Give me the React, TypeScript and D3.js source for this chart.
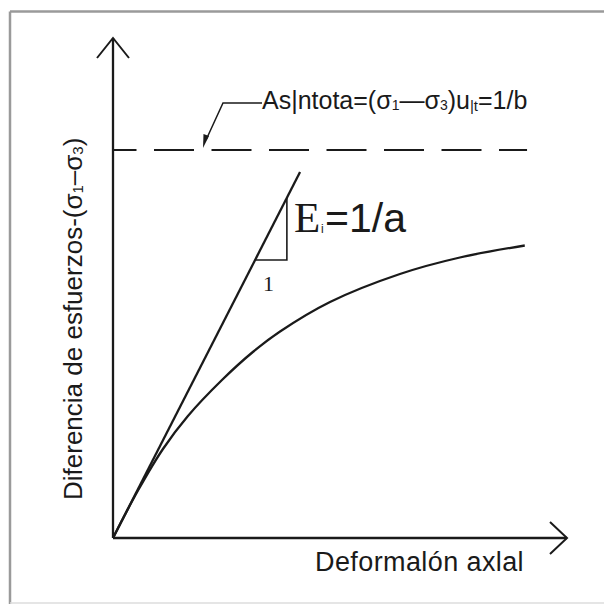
import React from "react";
import * as d3 from "d3";

// ---- data (arbitrary units) ----
const curveX = [0, 0.55, 1.1, 1.65, 2.4, 3.08, 3.68, 4.78, 6.32, 7.64, 9.07];
const curveY = [0, 0.95, 1.78, 2.44, 3.16, 3.72, 4.13, 4.72, 5.28, 5.61, 5.85];
const tangentX = [0, 4.12];
const tangentY = [0, 7.32];
const asymptoteY = 7.76;
const asymptoteX = [0, 9.12];
const triangleX = [3.13, 3.83];
const xLabel = "Deformalón axlal";
const yLabelMain = "Diferencia de esfuerzos-(σ";
const annotMain = "As|ntota=(σ";
const slopeLabel = "=1/a";
const runLabel = "1";

const W = 604;
const H = 604;

export default function App() {
  const x = d3.scaleLinear().domain([0, 10]).range([113, 567]);
  const y = d3.scaleLinear().domain([0, 10]).range([538, 38]);

  const curvePts: [number, number][] = curveX.map((v, i) => [v, curveY[i]]);
  const line = d3
    .line<[number, number]>()
    .x((d) => x(d[0]))
    .y((d) => y(d[1]))
    .curve(d3.curveCatmullRom.alpha(0.5));

  const slope = tangentY[1] / tangentX[1];
  const triY0 = triangleX[0] * slope;
  const triY1 = triangleX[1] * slope;

  const ink = "#1a1a1a";
  const sans = "'Liberation Sans', Arial, sans-serif";
  const serif = "'Liberation Serif', 'Times New Roman', serif";

  const ax0 = x(0);
  const ay0 = y(0);
  const yTop = y(10);
  const xEnd = x(10);

  const asY = y(asymptoteY);
  const tipX = 203;

  return (
    <svg
      width={W}
      height={H}
      style={{ position: "fixed", left: 0, top: 0, background: "#fff" }}
    >
      <rect x={0} y={0} width={W} height={H} fill="#fff" />
      {/* frame */}
      <line x1={10} y1={11.5} x2={W} y2={11.5} stroke="#9a9a9a" strokeWidth={2.5} />
      <line x1={10} y1={11.5} x2={10} y2={H} stroke="#9a9a9a" strokeWidth={2.5} />
      <line x1={10} y1={603} x2={W} y2={603} stroke="#dddddd" strokeWidth={1.5} />

      {/* axes */}
      <line x1={ax0} y1={ay0} x2={ax0} y2={yTop} stroke={ink} strokeWidth={2.3} />
      <line x1={ax0} y1={ay0} x2={xEnd} y2={ay0} stroke={ink} strokeWidth={2.3} />
      <polyline
        points={`${ax0 - 16},${yTop + 20} ${ax0},${yTop} ${ax0 + 16},${yTop + 20}`}
        fill="none"
        stroke={ink}
        strokeWidth={2}
      />
      <polyline
        points={`${xEnd - 17},${ay0 - 16} ${xEnd},${ay0} ${xEnd - 17},${ay0 + 16}`}
        fill="none"
        stroke={ink}
        strokeWidth={2}
      />

      {/* asymptote */}
      <line
        x1={x(asymptoteX[0])}
        y1={asY}
        x2={x(asymptoteX[1])}
        y2={asY}
        stroke={ink}
        strokeWidth={2}
        strokeDasharray="40 17.5"
        strokeDashoffset={16.5}
      />

      {/* tangent */}
      <line
        x1={x(tangentX[0])}
        y1={y(tangentY[0])}
        x2={x(tangentX[1])}
        y2={y(tangentY[1])}
        stroke={ink}
        strokeWidth={2.3}
      />
      {/* slope triangle */}
      <polyline
        points={`${x(triangleX[0])},${y(triY0)} ${x(triangleX[1])},${y(triY0)} ${x(
          triangleX[1]
        )},${y(triY1)}`}
        fill="none"
        stroke={ink}
        strokeWidth={1.6}
      />

      {/* curve */}
      <path d={line(curvePts) || ""} fill="none" stroke={ink} strokeWidth={2.3} />

      {/* annotation leader */}
      <polyline
        points={`262,103 223,103 ${tipX + 3},${asY - 10}`}
        fill="none"
        stroke={ink}
        strokeWidth={1.5}
      />
      <polygon
        points={`${tipX},${asY - 2} ${tipX + 0.5},${asY - 16} ${tipX + 6},${asY - 14}`}
        fill={ink}
      />
      <text x={262} y={109} fontFamily={sans} fontSize={25} fill={ink}>
        {annotMain}
        <tspan fontSize={14} dy={1}>1</tspan>
        <tspan dy={-1}>—σ</tspan>
        <tspan fontSize={14} dy={1}>3</tspan>
        <tspan dy={-1}>)u</tspan>
        <tspan fontSize={15} dy={2}>|t</tspan>
        <tspan dy={-2}>=1/b</tspan>
      </text>

      {/* slope label */}
      <text x={294} y={232} fontFamily={serif} fontSize={43} fill={ink}>
        E
      </text>
      <text x={321} y={233} fontFamily={sans} fontSize={12} fill={ink}>
        i
      </text>
      <text x={325} y={232} fontFamily={sans} fontSize={41} fill={ink}>
        {slopeLabel}
      </text>
      <text x={263} y={291} fontFamily={serif} fontSize={22} fill={ink}>
        {runLabel}
      </text>

      {/* axis labels */}
      <text
        x={315}
        y={571}
        fontFamily={sans}
        fontSize={27}
        letterSpacing={0.4}
        fill={ink}
      >
        {xLabel}
      </text>
      <text
        transform="translate(82,500) rotate(-90)"
        fontFamily={sans}
        fontSize={26}
        fill={ink}
      >
        {yLabelMain}
        <tspan fontSize={15} dy={1}>1</tspan>
        <tspan dy={-1}>–σ</tspan>
        <tspan fontSize={15} dy={1}>3</tspan>
        <tspan dy={-1}>)</tspan>
      </text>
    </svg>
  );
}
